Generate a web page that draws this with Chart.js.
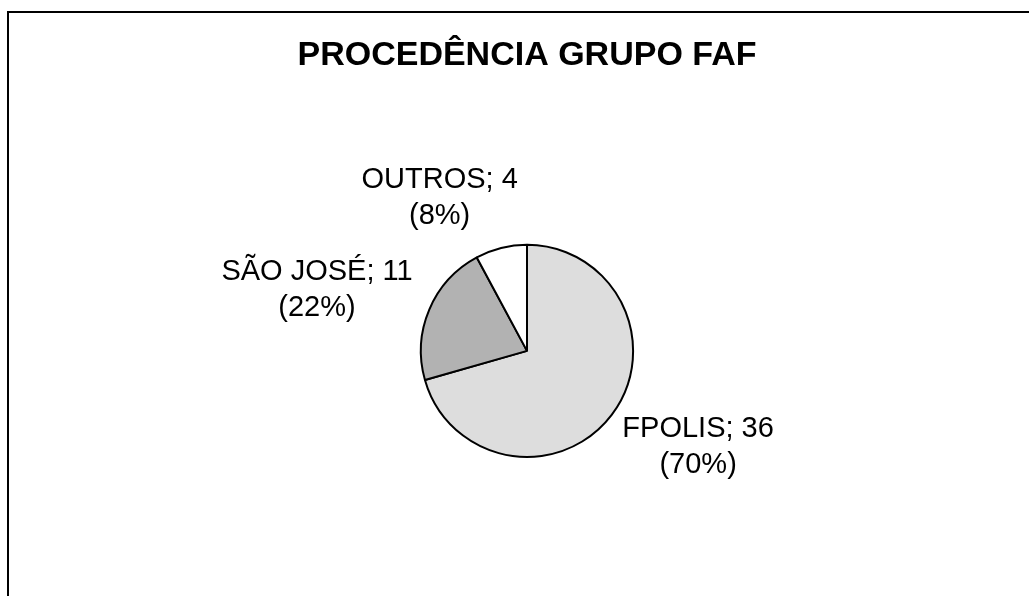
<!DOCTYPE html>
<html>
<head>
<meta charset="utf-8">
<script src="https://cdn.jsdelivr.net/npm/chart.js@4.4.1/dist/chart.umd.min.js"></script>
<style>
  html, body { margin: 0; padding: 0; background: #fff; overflow: hidden; }
  #frame {
    position: absolute; left: 7px; top: 11px;
    width: 1040px; height: 600px;
    border-left: 2px solid #000; border-top: 2px solid #000;
  }
  #wrap { position: absolute; left: 0; top: 0; width: 1036px; height: 583px; }
</style>
</head>
<body>
<div id="frame">
  <div id="wrap"><canvas id="pie"></canvas></div>
</div>
<script>
// dados
const categories = ['FPOLIS', 'SÃO JOSÉ', 'OUTROS']
const counts = [36, 11, 4]
const percents = ['70%', '22%', '8%']
const sliceColors = ['#dddddd', '#b2b2b2', '#ffffff']

// ajuste fino da posição de cada rótulo (px)
const labelNudge = [[18, 2], [-15, -4], [-40, -7]]

const LABEL_FONT = '29px "Liberation Sans", Arial, sans-serif'
const LINE_H = 36

// rótulos fora da pizza, estilo Excel (nome; valor / (percentual))
const outsideLabels = {
  id: 'outsideLabels',
  afterDatasetsDraw(chart) {
    const ctx = chart.ctx
    const arcs = chart.getDatasetMeta(0).data
    ctx.save()
    ctx.font = LABEL_FONT
    ctx.fillStyle = '#000'
    ctx.textAlign = 'center'
    ctx.textBaseline = 'alphabetic'
    arcs.forEach((arc, i) => {
      const { x, y, startAngle, endAngle, outerRadius } = arc.getProps(['x', 'y', 'startAngle', 'endAngle', 'outerRadius'], true)
      const mid = (startAngle + endAngle) / 2
      const dx = Math.cos(mid), dy = Math.sin(mid)
      const line1 = `${categories[i]}; ${counts[i]}`
      const line2 = `(${percents[i]})`
      const w = Math.max(ctx.measureText(line1).width, ctx.measureText(line2).width)
      const ax = x + dx * (outerRadius + 10)
      const ay = y + dy * (outerRadius + 10)
      const cx = ax + dx * w / 2 + labelNudge[i][0]
      const cy = ay + dy * LINE_H + labelNudge[i][1]
      ctx.fillText(line1, cx, cy - LINE_H / 2 + 10)
      ctx.fillText(line2, cx, cy + LINE_H / 2 + 10)
    })
    ctx.restore()
  },
}

new Chart(document.getElementById('pie'), {
  type: 'pie',
  data: {
    labels: categories,
    datasets: [{
      data: counts,
      backgroundColor: sliceColors,
      borderColor: '#000',
      borderWidth: 2,
    }],
  },
  options: {
    responsive: true,
    maintainAspectRatio: false,
    animation: false,
    layout: { padding: { left: 0, right: 0, top: 0, bottom: 138 } },
    plugins: {
      legend: { display: false },
      tooltip: { enabled: false },
      title: {
        display: true,
        text: 'PROCEDÊNCIA GRUPO FAF',
        color: '#000',
        font: { family: '"Liberation Sans", Arial, sans-serif', size: 34, weight: 'bold' },
        padding: { top: 22, bottom: 168 },
      },
    },
  },
  plugins: [outsideLabels],
})
</script>
</body>
</html>
